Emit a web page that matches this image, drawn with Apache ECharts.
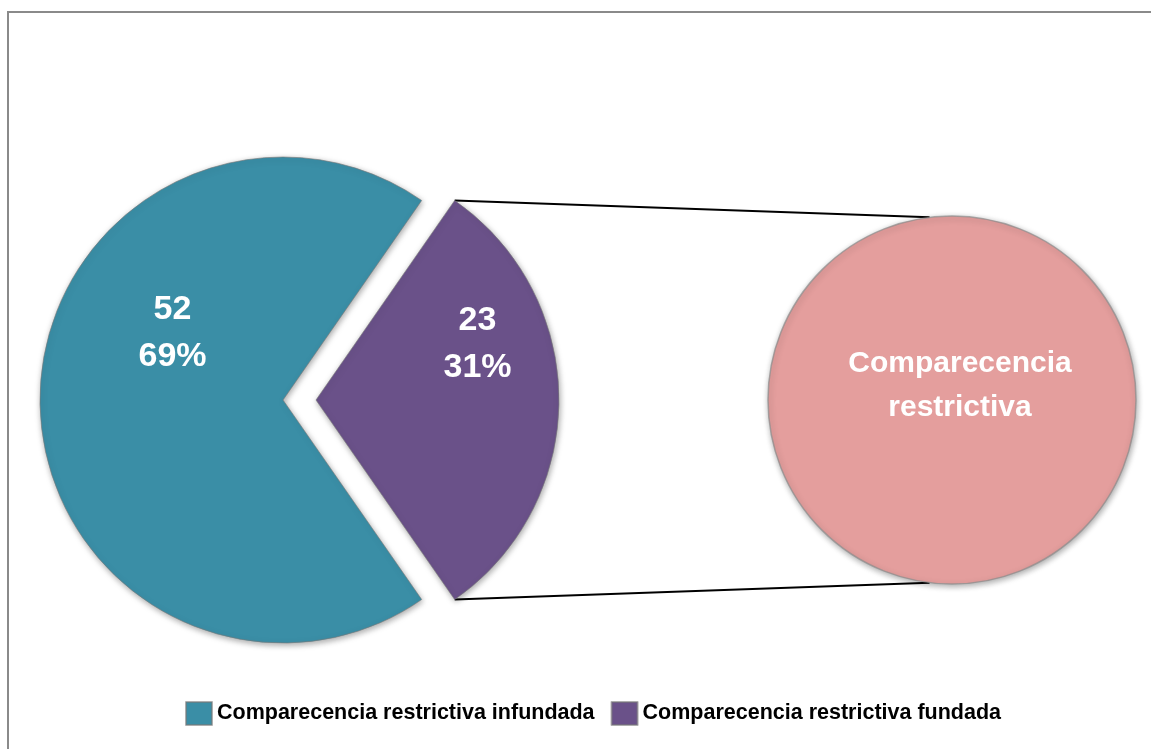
<!DOCTYPE html>
<html>
<head>
<meta charset="utf-8">
<script src="https://cdn.jsdelivr.net/npm/echarts@6/dist/echarts.min.js"></script>
<style>
  html, body { margin: 0; padding: 0; background: #fff; }
  #chart { width: 1151px; height: 749px; }
</style>
</head>
<body>
<div id="chart"></div>
<script>
// datos
const categories = ["Comparecencia restrictiva infundada", "Comparecencia restrictiva fundada"];
const values = [52, 23];
const colors = ["#3A8EA6", "#6A5189"];
const subName = "Comparecencia restrictiva";
const subValue = [23];

const FONT = "'Liberation Sans', Arial, sans-serif";

// geometria
const mainCenter = [283, 400];
const mainR = 243;
const explode = 33;
const subCenter = [952, 400];
const subR = 184;

const total = values.reduce((a, b) => a + b, 0);
const halfAng = (values[1] / total) * Math.PI; // mitad del angulo del sector morado
const startAngle = -(values[1] / total) * 180;

// lineas de conexion (del sector morado al circulo)
const px = mainCenter[0] + explode + mainR * Math.cos(halfAng);
const pyTop = mainCenter[1] - mainR * Math.sin(halfAng);
const pyBot = mainCenter[1] + mainR * Math.sin(halfAng);
const cAng = 97 * Math.PI / 180;
const cx = subCenter[0] + subR * Math.cos(cAng);
const cyTop = subCenter[1] - subR * Math.sin(cAng);
const cyBot = subCenter[1] + subR * Math.sin(cAng);

const purpleLabelOffset = [37, -56];

const myChart = echarts.init(document.getElementById("chart"));
myChart.setOption({
  animation: false,
  legend: {
    data: categories,
    left: 180,
    top: 696,
    itemWidth: 26,
    itemHeight: 23,
    itemGap: 16,
    icon: "rect",
    textStyle: { fontFamily: FONT, fontWeight: "bold", fontSize: 21.5, color: "#000" }
  },
  graphic: [
    {
      type: "rect",
      shape: { x: 8, y: 12, width: 1170, height: 780 },
      style: { fill: "none", stroke: "#8a8a8a", lineWidth: 2 },
      silent: true
    },
    {
      type: "line",
      shape: { x1: px, y1: pyTop, x2: cx, y2: cyTop },
      style: { stroke: "#000", lineWidth: 2 },
      silent: true
    },
    {
      type: "line",
      shape: { x1: px, y1: pyBot, x2: cx, y2: cyBot },
      style: { stroke: "#000", lineWidth: 2 },
      silent: true
    }
  ],
  series: [
    {
      type: "pie",
      center: mainCenter,
      radius: mainR,
      startAngle: startAngle,
      clockwise: true,
      selectedMode: "single",
      selectedOffset: explode,
      percentPrecision: 0,
      emphasis: { disabled: true },
      itemStyle: {
        borderColor: "rgba(120,120,120,0.6)",
        borderWidth: 1,
        shadowBlur: 6,
        shadowColor: "rgba(0,0,0,0.35)",
        shadowOffsetX: 1,
        shadowOffsetY: 2
      },
      label: {
        show: true,
        position: "inside",
        formatter: "{c}\n{d}%",
        color: "#fff",
        fontFamily: FONT,
        fontWeight: "bold",
        fontSize: 34,
        lineHeight: 47
      },
      labelLine: { show: false },
      data: [
        { name: categories[0], value: values[0], itemStyle: { color: colors[0] }, label: { offset: [14, -67] } },
        {
          name: categories[1],
          value: values[1],
          selected: true,
          itemStyle: { color: colors[1] },
          label: { offset: purpleLabelOffset },
          select: { label: { offset: purpleLabelOffset } }
        }
      ]
    },
    {
      type: "pie",
      center: subCenter,
      radius: subR,
      emphasis: { disabled: true },
      itemStyle: {
        color: "#E49E9D",
        borderColor: "rgba(140,140,140,0.7)",
        borderWidth: 1.5,
        shadowBlur: 6,
        shadowColor: "rgba(0,0,0,0.35)",
        shadowOffsetX: 1,
        shadowOffsetY: 2
      },
      label: {
        show: true,
        position: "center",
        formatter: p => p.name.replace(" ", "\n"),
        color: "#fff",
        fontFamily: FONT,
        fontWeight: "bold",
        fontSize: 30,
        lineHeight: 44,
        offset: [8, -14]
      },
      labelLine: { show: false },
      data: [{ name: subName, value: subValue[0] }]
    }
  ]
});
</script>
</body>
</html>
